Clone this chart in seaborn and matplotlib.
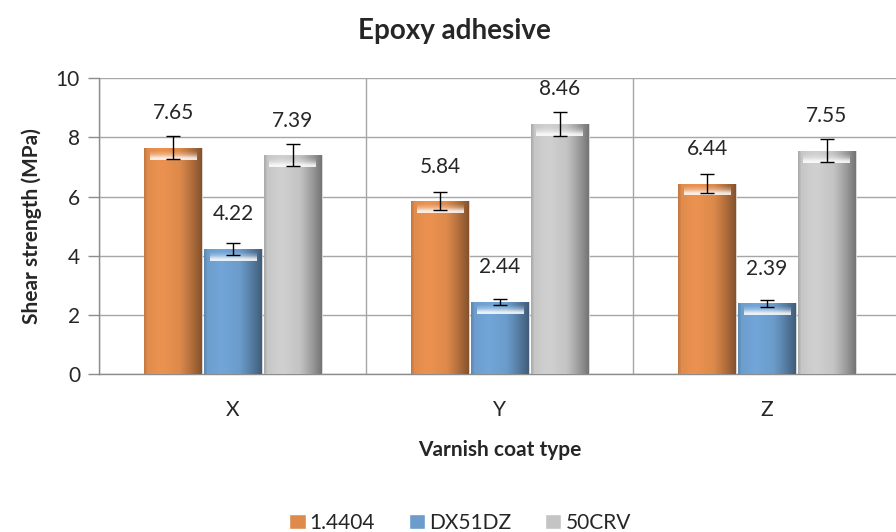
import numpy as np
import pandas as pd
import matplotlib
matplotlib.use("Agg")
import matplotlib.pyplot as plt
import seaborn as sns
from matplotlib.colors import to_rgb

# Data
coats = ["X", "Y", "Z"]
steels = ["1.4404", "DX51DZ", "50CRV"]
strength_14404 = [7.65, 5.84, 6.44]
strength_dx51dz = [4.22, 2.44, 2.39]
strength_50crv = [7.39, 8.46, 7.55]
err_14404 = [0.39, 0.30, 0.32]
err_dx51dz = [0.20, 0.10, 0.12]
err_50crv = [0.37, 0.40, 0.39]

colors = ["#F68633", "#5B9CDB", "#C4C4C4"]

df = pd.DataFrame({
    "coat": coats * 3,
    "steel": np.repeat(steels, 3),
    "value": strength_14404 + strength_dx51dz + strength_50crv,
    "err": err_14404 + err_dx51dz + err_50crv,
})

sns.set_style("white")
plt.rcParams["font.family"] = ["Lato", "DejaVu Sans"]

fig = plt.figure(figsize=(8.96, 5.32), dpi=100)
ax = fig.add_axes([0.111, 0.297, 0.894, 0.556])

sns.barplot(data=df, x="coat", y="value", hue="steel", order=coats,
            hue_order=steels, palette=colors, width=0.67, gap=0.03,
            errorbar=None, ax=ax, legend=True, zorder=3)

# shading to mimic the bevelled bars
for patch in ax.patches:
    bb = patch.get_bbox()
    if bb.width <= 0 or bb.height <= 0:
        continue
    base = np.array(to_rgb(patch.get_facecolor()))
    t = np.linspace(0, 1, 60)
    shade = 1 - 0.4 * np.clip((t - 0.6) / 0.4, 0, 1) ** 1.2
    shade = shade + 0.06 * np.exp(-((t - 0.3) / 0.2) ** 2)
    shade = np.where(t < 0.05, 0.88 + t * 2.0, shade)
    img = np.clip(base[None, :] * shade[:, None], 0, 1)[None, :, :]
    im = ax.imshow(img, extent=[bb.x0, bb.x1, bb.y0, bb.y1], aspect="auto",
                   zorder=3.5, interpolation="bilinear")
    im.set_clip_path(patch)
    # light bevel at the top of the bar
    top = ax.imshow(np.array([[[1, 1, 1, 0.0]], [[1, 1, 1, 0.3]], [[1, 1, 1, 0.85]]]),
                    extent=[bb.x0 + bb.width * 0.1, bb.x1 - bb.width * 0.1,
                            bb.y1 - 0.4, bb.y1 - 0.04],
                    aspect="auto", zorder=3.6, interpolation="bilinear")
    top.set_clip_path(patch)
    patch.set_edgecolor("#d8d8d8")
    patch.set_linewidth(0.6)

# error bars and value labels from bar positions
bars = [p for p in ax.patches if p.get_height() > 0]
for patch, (_, row) in zip(bars, df.iterrows()):
    xc = patch.get_x() + patch.get_width() / 2
    ax.errorbar(xc, row["value"], yerr=row["err"], fmt="none", ecolor="black",
                elinewidth=1, capsize=5, capthick=1, zorder=5)
    ax.annotate(f"{row['value']:.2f}", (xc, row["value"]), xytext=(0, 25),
                textcoords="offset points", ha="center", va="center",
                fontsize=15)

ax.set_xlim(-0.5, 2.5)
ax.set_ylim(0, 10)
ax.set_yticks(range(0, 11, 2))
ax.yaxis.grid(True, color="#a6a6a6", linewidth=1, zorder=0)
ax.set_xticks([-0.5, 0.5, 1.5, 2.5], minor=True)
ax.xaxis.grid(True, which="minor", color="#a6a6a6", linewidth=1, zorder=0)
ax.tick_params(axis="x", which="minor", length=10, color="#8c8c8c", width=1)
ax.tick_params(axis="x", which="major", length=0, pad=19, labelsize=15)
ax.tick_params(axis="y", length=8, color="#8c8c8c", width=1, labelsize=15,
               left=True, pad=6)
for side in ["top", "right"]:
    ax.spines[side].set_visible(False)
for side in ["left", "bottom"]:
    ax.spines[side].set_color("#8c8c8c")
    ax.spines[side].set_linewidth(1)

ax.set_xlabel("Varnish coat type", fontsize=15, fontweight="bold", labelpad=14)
ax.set_ylabel("Shear strength (MPa)", fontsize=15, fontweight="bold", labelpad=10)
ax.set_title("Epoxy adhesive", fontsize=20, fontweight="bold", pad=28, x=0.443)

handles, labels = ax.get_legend_handles_labels()
ax.legend(handles, labels, loc="lower center", bbox_to_anchor=(0.45, -0.6),
          ncol=3, frameon=False, fontsize=15, handlelength=0.8,
          handleheight=0.8, handletextpad=0.2, columnspacing=1.6)

fig.savefig("out.png", dpi=100)
